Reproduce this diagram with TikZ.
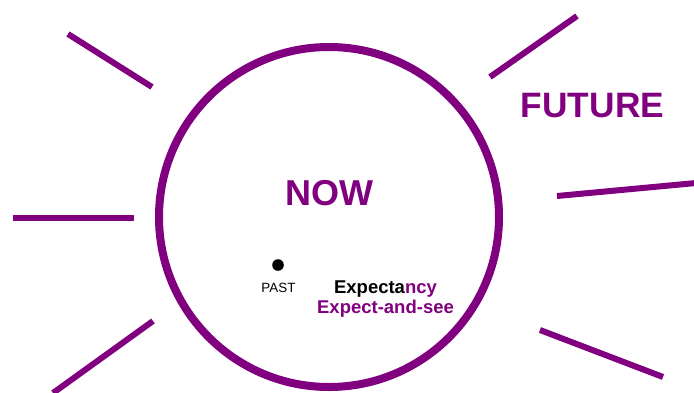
\documentclass[tikz,border=0pt]{standalone}
\usepackage{fontspec}
\setmainfont{Liberation Sans}
\definecolor{pur}{HTML}{800080}
\begin{document}
\begin{tikzpicture}[x=1pt,y=-1pt,
  ray/.style={draw=pur,line width=6pt},
  big/.style={font=\fontsize{36}{36}\selectfont\bfseries,text=pur,inner sep=0pt,anchor=base},
  mid/.style={font=\fontsize{18.5}{18.5}\selectfont\bfseries,inner sep=0pt,anchor=base}]
\useasboundingbox (0,0) rectangle (694,392);
\draw[pur,line width=8pt] (329,217) circle[radius=170];
\draw[ray] (68,34) -- (152,87);
\draw[ray] (13,218) -- (134,218);
\draw[ray] (153,321) -- (53,393);
\draw[ray] (490,77) -- (577,16);
\draw[ray] (557,196) -- (696,183);
\draw[ray] (540,330) -- (663,377);
\node[big] (now) at (329.5,205) {NOW};
\node[big,font=\fontsize{35.3}{35.3}\selectfont\bfseries] (future) at (592.5,117) {FUTURE};
\fill (278,265) circle[radius=5.8];
\node[inner sep=0pt,anchor=base,font=\fontsize{13.4}{13.4}\selectfont] (past) at (278.5,292) {PAST};
\node[mid] (exp) at (385.5,293) {Expecta\textcolor{pur}{ncy}};
\node[mid,text=pur] (eas) at (385.5,313) {Expect-and-see};
\end{tikzpicture}
\end{document}
